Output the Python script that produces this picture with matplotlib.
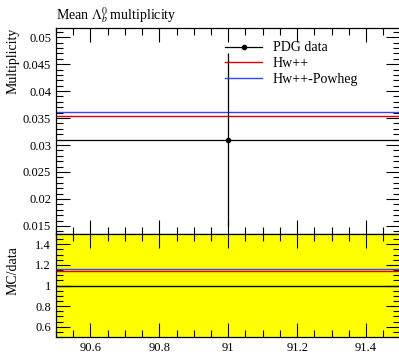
import matplotlib
matplotlib.use("Agg")
import matplotlib.pyplot as plt
from matplotlib.ticker import MultipleLocator
from matplotlib.lines import Line2D

plt.rcParams['font.family'] = ['Liberation Serif', 'DejaVu Serif']
plt.rcParams['mathtext.fontset'] = 'stix'

# Data
x_data = [91.0]
x_lo = [90.5]
x_hi = [91.5]
y_data = [0.031]
y_err = [0.016]
hw_val = [0.0354]
powheg_val = [0.0361]
labels = ["PDG data", "Hw++", "Hw++-Powheg"]
xticks = [90.6, 90.8, 91.0, 91.2, 91.4]
xticklabels = ["90.6", "90.8", "91", "91.2", "91.4"]

W, H = 399, 355
fig = plt.figure(figsize=(W/100, H/100), dpi=100)
left = 56/W
width = (400.5-56)/W
ax = fig.add_axes([left, 1-234/H, width, (234-28)/H])
rx = fig.add_axes([left, 1-337/H, width, (337-234)/H])

xmin, xmax = x_lo[0], x_hi[0]
red = '#e00000'
blue = '#3344ff'

# Upper panel
ax.errorbar(x_data, y_data, yerr=y_err,
            xerr=[[x_data[0]-x_lo[0]], [x_hi[0]-x_data[0]]],
            fmt='o', color='black', ms=3, lw=0.9, capsize=0, zorder=3)
ax.hlines(hw_val, xmin, xmax, color=red, lw=1.0)
ax.hlines(powheg_val, xmin, xmax, color=blue, lw=1.0)
ax.set_xlim(xmin, xmax)
ax.set_ylim(0.0135, 0.0517)
ax.set_yticks([0.015, 0.02, 0.025, 0.03, 0.035, 0.04, 0.045, 0.05])
ax.set_yticklabels(["0.015", "0.02", "0.025", "0.03", "0.035", "0.04", "0.045", "0.05"])
ax.yaxis.set_minor_locator(MultipleLocator(0.001))
ax.set_xticks(xticks)
ax.xaxis.set_minor_locator(MultipleLocator(0.05))
ax.tick_params(labelbottom=False)
ax.text(0.0, 1 + 9/206, r"Mean $\Lambda_b^0$ multiplicity", transform=ax.transAxes,
        fontsize=10, ha='left', va='baseline')
ax.text(-0.125, 1.0, "Multiplicity", transform=ax.transAxes, rotation=90,
        fontsize=10, ha='center', va='top')

handles = [Line2D([], [], color='black', marker='o', ms=3, lw=0.9),
           Line2D([], [], color=red, lw=1.0),
           Line2D([], [], color=blue, lw=1.0)]
ax.legend(handles, labels, loc='upper left', bbox_to_anchor=(0.49, 0.935),
          frameon=False, fontsize=10, handlelength=2.7, handletextpad=0.75,
          labelspacing=0.2, borderaxespad=0, borderpad=0)

# Ratio panel
rx.axhspan(1 - y_err[0]/y_data[0], 1 + y_err[0]/y_data[0], color='#ffff00', zorder=0)
rx.hlines([1.0], xmin, xmax, color='black', lw=1.0, zorder=2)
rx.hlines([hw_val[0]/y_data[0]], xmin, xmax, color=red, lw=1.0, zorder=3)
rx.hlines([powheg_val[0]/y_data[0]], xmin, xmax, color=blue, lw=1.0, zorder=3)
rx.set_xlim(xmin, xmax)
rx.set_ylim(0.5, 1.5)
rx.set_yticks([0.6, 0.8, 1.0, 1.2, 1.4])
rx.set_yticklabels(["0.6", "0.8", "1", "1.2", "1.4"])
rx.yaxis.set_minor_locator(MultipleLocator(0.05))
rx.set_xticks(xticks)
rx.set_xticklabels(xticklabels)
rx.xaxis.set_minor_locator(MultipleLocator(0.05))
rx.text(-0.125, 0.88, "MC/data", transform=rx.transAxes, rotation=90,
        fontsize=10, ha='center', va='top')

for a in (ax, rx):
    a.tick_params(which='both', direction='in', top=True, right=True, labelsize=9)
    a.tick_params(which='major', length=10, width=0.8)
    a.tick_params(which='minor', length=5, width=0.8)
    for s in a.spines.values():
        s.set_linewidth(0.9)

fig.savefig("out.png", dpi=100)
